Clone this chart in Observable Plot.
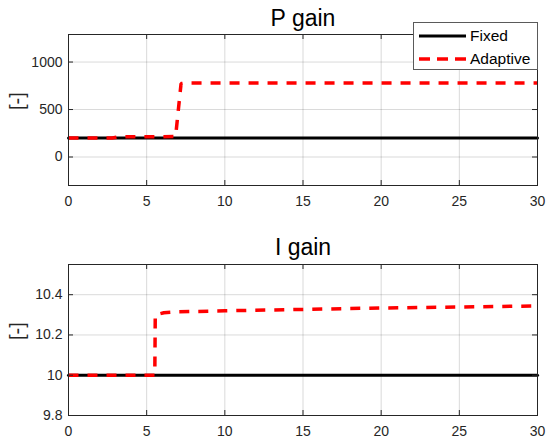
<!DOCTYPE html>
<html>
<head>
<meta charset="utf-8">
<script src="https://cdn.jsdelivr.net/npm/d3@7"></script>
<script src="https://cdn.jsdelivr.net/npm/@observablehq/plot@0.6"></script>
<style>
  html, body { margin: 0; padding: 0; background: #fff; }
  #wrap { position: relative; width: 550px; height: 443px; font-family: "Liberation Sans", Arial, Helvetica, sans-serif; }
  #top, #bottom { position: absolute; left: 0; }
  #top { top: 0; }
  #bottom { top: 221px; }
  #legend { position: absolute; left: 413px; top: 22px; width: 123px; height: 46px; border: 1px solid #5a5a5a; background: #fff; font-size: 15.5px; color: #000; }
  .row { position: absolute; left: 5px; height: 20px; display: flex; align-items: center; }
  .row svg { margin-right: 4px; }
</style>
</head>
<body>
<div id="wrap">
  <div id="top"></div>
  <div id="bottom"></div>
  <div id="legend"></div>
</div>
<script>
// ---- data ----
const seriesNames = ["Fixed", "Adaptive"];
const xTicks = [0, 5, 10, 15, 20, 25, 30];

const pFixedT = [0, 30];
const pFixedV = [200, 200];
const pAdaptT = [0, 2.8, 3.2, 6.85, 7.2, 7.5, 30];
const pAdaptV = [200, 200, 212, 215, 773, 780, 780];
const pTicks = [0, 500, 1000];

const iFixedT = [0, 30];
const iFixedV = [10, 10];
const iAdaptT = [0, 5.52, 5.55, 6.1, 7, 10, 15, 20, 25, 30];
const iAdaptV = [10, 10, 10.3, 10.31, 10.315, 10.32, 10.327, 10.334, 10.339, 10.344];
const iTicks = [9.8, 10, 10.2, 10.4];

const colors = {Fixed: "#000000", Adaptive: "#ff0000"};

function rows(ts, vs) { return ts.map((t, i) => ({t, v: vs[i]})); }

function panel({title, fixed, adapt, yDomain, yTicks, yFmt, height, marginTop, marginBottom, titleDy}) {
  const W = 550, mL = 68, mR = 13;
  const frameH = height - marginTop - marginBottom;
  const frameW = W - mL - mR;
  const tk = 5;
  return Plot.plot({
    width: W, height, marginLeft: mL, marginRight: mR, marginTop, marginBottom,
    style: {fontFamily: '"Liberation Sans", Arial, Helvetica, sans-serif', fontSize: "14px", color: "#262626", background: "#fff", overflow: "visible"},
    x: {domain: [0, 30]},
    y: {domain: yDomain},
    marks: [
      Plot.gridX(xTicks, {stroke: "#000", strokeOpacity: 0.15, strokeWidth: 1}),
      Plot.gridY(yTicks, {stroke: "#000", strokeOpacity: 0.15, strokeWidth: 1}),
      Plot.line(fixed, {x: "t", y: "v", stroke: colors.Fixed, strokeWidth: 3}),
      Plot.line(adapt, {x: "t", y: "v", stroke: colors.Adaptive, strokeWidth: 3.5, strokeDasharray: "10,9", strokeLinecap: "butt", strokeLinejoin: "miter"}),
      // inward ticks (MATLAB style)
      Plot.tickX(xTicks, {x: d => d, insetTop: frameH - tk, stroke: "#262626"}),
      Plot.tickX(xTicks, {x: d => d, insetBottom: frameH - tk, stroke: "#262626"}),
      Plot.tickY(yTicks, {y: d => d, insetRight: frameW - tk, stroke: "#262626"}),
      Plot.tickY(yTicks, {y: d => d, insetLeft: frameW - tk, stroke: "#262626"}),
      Plot.frame({stroke: "#262626", strokeWidth: 1}),
      Plot.axisX(xTicks, {tickSize: 0, tickPadding: 11, label: null, fill: "#262626", fontSize: 14}),
      Plot.axisY(yTicks, {tickSize: 0, tickPadding: 6, label: null, tickFormat: yFmt, fill: "#262626", fontSize: 14}),
      Plot.text(["[-]"], {frameAnchor: "left", dx: -51, rotate: -90, fontSize: 20, fill: "#262626"}),
      Plot.text([title], {frameAnchor: "top", dy: titleDy, lineAnchor: "bottom", fontSize: 23, fill: "#000"})
    ]
  });
}

document.getElementById("top").appendChild(panel({
  title: "P gain",
  fixed: rows(pFixedT, pFixedV), adapt: rows(pAdaptT, pAdaptV),
  yDomain: [-300, 1290], yTicks: pTicks, yFmt: d => String(d),
  height: 221, marginTop: 34, marginBottom: 36, titleDy: -9
}));

document.getElementById("bottom").appendChild(panel({
  title: "I gain",
  fixed: rows(iFixedT, iFixedV), adapt: rows(iAdaptT, iAdaptV),
  yDomain: [9.8, 10.55], yTicks: iTicks, yFmt: d => String(+d.toFixed(1)),
  height: 222, marginTop: 43, marginBottom: 28, titleDy: -10
}));

// legend
const leg = document.getElementById("legend");
const rowTops = [3, 25.5];
seriesNames.forEach((name, i) => {
  const r = document.createElement("div");
  r.className = "row";
  r.style.top = rowTops[i] + "px";
  const dash = name === "Adaptive" ? 'stroke-dasharray="11,7"' : "";
  const sw = name === "Adaptive" ? 3.5 : 3;
  r.innerHTML = `<svg width="47" height="10"><line x1="0" x2="47" y1="5" y2="5" stroke="${colors[name]}" stroke-width="${sw}" ${dash}/></svg><span>${name}</span>`;
  leg.appendChild(r);
});
</script>
</body>
</html>
